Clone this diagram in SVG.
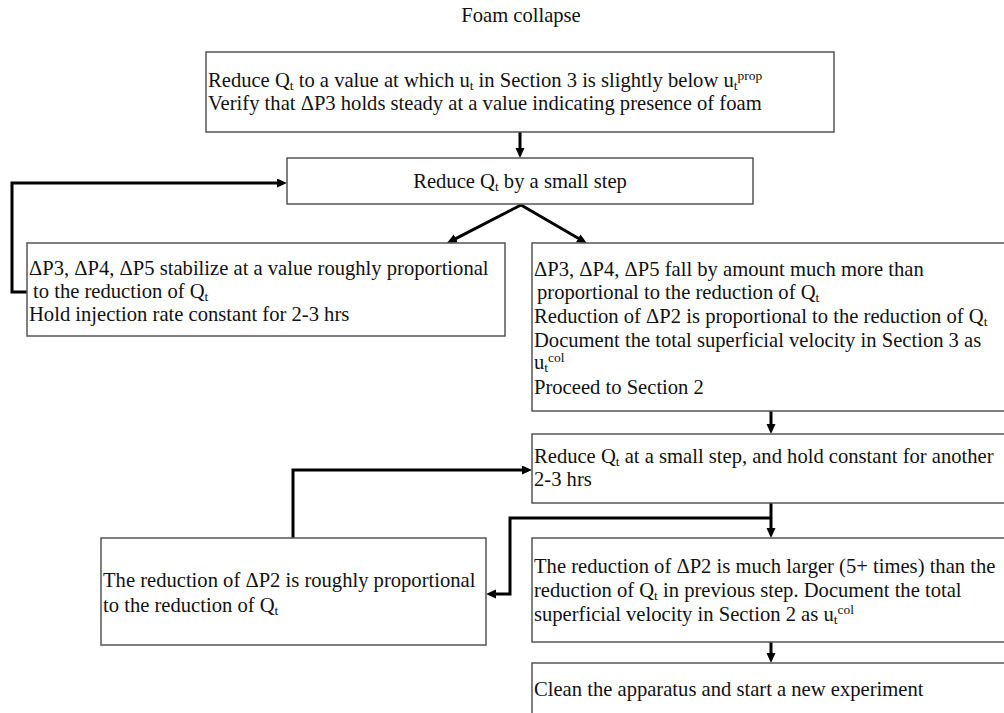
<svg xmlns="http://www.w3.org/2000/svg" width="1004" height="713" viewBox="0 0 1004 713">
<style>
.box{fill:#fff;stroke:#555;stroke-width:1.5}
.t{font-family:"Liberation Serif","Times New Roman",serif;font-size:20.6px;fill:#111}
.s{font-size:13.5px}
.c{fill:none;stroke:#000;stroke-width:3}
</style>
<defs>
<marker id="ah" markerUnits="userSpaceOnUse" markerWidth="10" markerHeight="10" refX="4" refY="4.5" orient="auto">
<path d="M0,0 L10,4.5 L0,9 z" fill="#000"/>
</marker>
</defs>
<rect width="1004" height="713" fill="#fff"/>
<text class="t" x="521" y="22" text-anchor="middle">Foam collapse</text>

<g id="connectors">
<path class="c" d="M520,132 V152" marker-end="url(#ah)"/>
<path class="c" d="M521,205 L452.3,240.3" marker-end="url(#ah)"/>
<path class="c" d="M521,205 L581.7,240.3" marker-end="url(#ah)"/>
<path class="c" d="M27,292 H12 V183 H281" marker-end="url(#ah)"/>
<path class="c" d="M771,411 V428" marker-end="url(#ah)"/>
<path class="c" d="M771,503 V532" marker-end="url(#ah)"/>
<path class="c" d="M771,518 H510 V594 H492" marker-end="url(#ah)"/>
<path class="c" d="M293,538 V470 H526" marker-end="url(#ah)"/>
<path class="c" d="M771,642 V657" marker-end="url(#ah)"/>
</g>

<g id="n1">
<rect class="box" x="206" y="52" width="628" height="80"/>
<text class="t" x="208" y="87">Reduce Q<tspan class="s" dy="3">t</tspan><tspan dy="-3"> to a value at which u</tspan><tspan class="s" dy="3">t</tspan><tspan dy="-3"> in Section 3 is slightly below u</tspan><tspan class="s" dy="3">t</tspan><tspan class="s" dy="-10">prop</tspan></text>
<text class="t" x="208" y="110">Verify that ΔP3 holds steady at a value indicating presence of foam</text>
</g>

<g id="n2">
<rect class="box" x="287" y="158" width="466" height="46"/>
<text class="t" x="520" y="188" text-anchor="middle">Reduce Q<tspan class="s" dy="3">t</tspan><tspan dy="-3"> by a small step</tspan></text>
</g>

<g id="n3">
<rect class="box" x="27" y="243" width="478" height="93"/>
<text class="t" x="29" y="275">ΔP3, ΔP4, ΔP5 stabilize at a value roughly proportional</text>
<text class="t" x="33" y="298">to the reduction of Q<tspan class="s" dy="3">t</tspan></text>
<text class="t" x="29" y="321">Hold injection rate constant for 2-3 hrs</text>
</g>

<g id="n4">
<rect class="box" x="532" y="243" width="480" height="168"/>
<text class="t" x="534" y="276">ΔP3, ΔP4, ΔP5 fall by amount much more than</text>
<text class="t" x="537" y="299">proportional to the reduction of Q<tspan class="s" dy="3">t</tspan></text>
<text class="t" x="534" y="323">Reduction of ΔP2 is proportional to the reduction of Q<tspan class="s" dy="3">t</tspan></text>
<text class="t" x="534" y="347">Document the total superficial velocity in Section 3 as</text>
<text class="t" x="534" y="369">u<tspan class="s" dy="3">t</tspan><tspan class="s" dy="-10">col</tspan></text>
<text class="t" x="534" y="394">Proceed to Section 2</text>
</g>

<g id="n5">
<rect class="box" x="532" y="434" width="480" height="69"/>
<text class="t" x="534" y="463">Reduce Q<tspan class="s" dy="3">t</tspan><tspan dy="-3"> at a small step, and hold constant for another</tspan></text>
<text class="t" x="534" y="486">2-3 hrs</text>
</g>

<g id="n6">
<rect class="box" x="101" y="538" width="385" height="107"/>
<text class="t" x="103" y="587">The reduction of ΔP2 is roughly proportional</text>
<text class="t" x="103" y="612">to the reduction of Q<tspan class="s" dy="3">t</tspan></text>
</g>

<g id="n7">
<rect class="box" x="532" y="538" width="480" height="104"/>
<text class="t" x="534" y="573">The reduction of ΔP2 is much larger (5+ times) than the</text>
<text class="t" x="534" y="597">reduction of Q<tspan class="s" dy="3">t</tspan><tspan dy="-3"> in previous step. Document the total</tspan></text>
<text class="t" x="534" y="621">superficial velocity in Section 2 as u<tspan class="s" dy="3">t</tspan><tspan class="s" dy="-10">col</tspan></text>
</g>

<g id="n8">
<rect class="box" x="532" y="663" width="480" height="60"/>
<text class="t" x="534" y="696">Clean the apparatus and start a new experiment</text>
</g>
</svg>
